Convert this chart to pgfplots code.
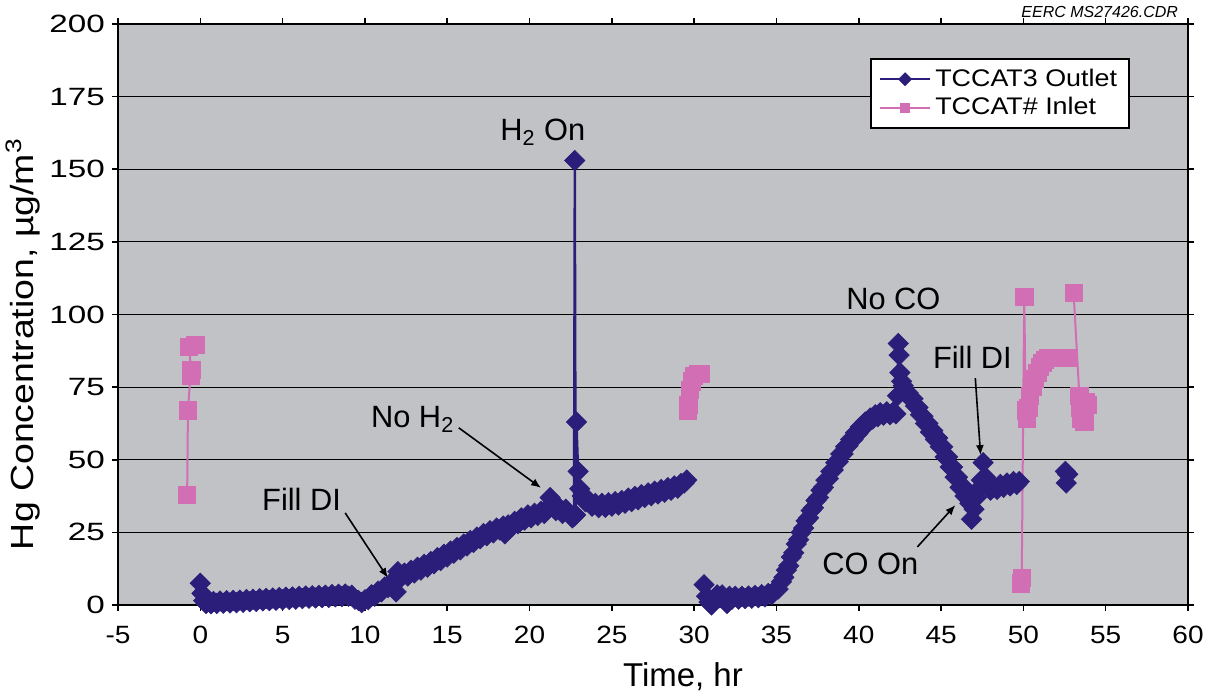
\documentclass[border=0pt]{standalone}
\usepackage{fontspec}
\setmainfont{Liberation Sans}
\newfontfamily\ytickfont[FakeStretch=1.33]{Liberation Sans}
\newfontfamily\xtickfont[FakeStretch=1.12]{Liberation Sans}
\newfontfamily\ylabfont[FakeStretch=1.17]{Liberation Sans}
\newfontfamily\legfont[FakeStretch=1.12]{Liberation Sans}
\usepackage{pgfplots}
\pgfplotsset{compat=1.18}
\usetikzlibrary{arrows.meta}
\definecolor{plotgray}{RGB}{192,194,197}
\definecolor{outblue}{RGB}{42,30,122}
\definecolor{inpink}{RGB}{210,110,180}
\pgfplotsset{
  outlet/.style={color=outblue, line width=1.2pt, mark=square*, mark size=3.6pt,
    mark options={rotate=45, fill=outblue, draw=outblue, line width=0.3pt}},
  inlet/.style={color=inpink, line width=1pt, mark=square*, mark size=4.3pt,
    mark options={fill=inpink, draw=inpink, line width=0.3pt}},
}
\begin{document}
\begin{tikzpicture}
\begin{axis}[
  at={(0,0)}, anchor=south west,
  scale only axis, width=535pt, height=290.5pt,
  xmin=-5, xmax=60, ymin=0, ymax=200, clip=false,
  xtick={-5,0,...,60}, ytick={0,25,...,200},
  tick align=outside, major tick length=3pt,
  tick style={black, line width=0.8pt},
  axis line style={black, line width=1pt},
  ymajorgrids, grid style={black, line width=0.6pt},
  axis background/.style={fill=plotgray},
  /pgf/number format/assume math mode=true,
  yticklabel style={font=\ytickfont\fontsize{12.5}{14}\selectfont},
  xticklabel style={font=\xtickfont\fontsize{12.5}{14}\selectfont, yshift=-4pt},
  xlabel={Time, hr}, ylabel={Hg Concentration, µg/m\textsuperscript{3}},
  x label style={font=\fontsize{16.5}{19}\selectfont, at={(axis description cs:0.528,-0.1411)}, anchor=base},
  y label style={font=\ylabfont\fontsize{16}{19}\selectfont, at={(axis description cs:-0.0888,0.449)}, anchor=center},
  legend style={at={(0.9458,0.9415)}, anchor=north east, draw=black, line width=1pt,
    fill=white, font=\legfont\fontsize{12}{14.5}\selectfont, inner xsep=4pt, inner ysep=3pt,
    row sep=0pt, cells={anchor=west}},
  legend image code/.code={\draw[mark repeat=2,mark phase=2,mark size=2.3pt] plot coordinates {(0pt,0pt) (12.5pt,0pt) (25pt,0pt)};},
]
% ---------- TCCAT3 Outlet ----------
\addplot[outlet] coordinates {
(0.0,7.5) (0.1,4) (0.2,1.5) (0.35,0.5) (0.5,1.3) (0.65,0.4) (0.8,1.2) (1.0,0.5) (1.2,1.4) (1.4,0.6)
(1.6,1.5) (1.8,0.7) (2.0,1.6) (2.2,0.8) (2.4,1.7) (2.6,0.9) (2.8,1.9) (3.0,1.1) (3.2,2.0) (3.4,1.2)
(3.6,2.2) (3.8,1.4) (4.0,2.3) (4.2,1.5) (4.4,2.4) (4.6,1.6) (4.8,2.6) (5.0,1.8) (5.2,2.7) (5.4,1.9)
(5.6,2.8) (5.8,2.0) (6.0,3.0) (6.2,2.2) (6.4,3.1) (6.6,2.3) (6.8,3.2) (7.0,2.4) (7.2,3.3) (7.4,2.5)
(7.6,3.4) (7.8,2.6) (8.0,3.6) (8.2,2.8) (8.4,3.7) (8.6,2.9) (8.8,3.8) (9.0,3.0) (9.2,3.4) (9.4,2.0)
(9.6,1.6) (9.8,0.8) (10.0,1.8) (10.2,1.8) (10.4,3.5) (10.6,3.0) (10.8,4.8) (11.0,4.5) (11.2,6.2)
(11.4,6.0) (11.6,7.8) (11.75,7.5) (11.9,4.5) (12.0,11.5) (12.2,9.5) (12.4,11) (12.6,10) (12.8,12)
(13.0,11) (13.2,13) (13.4,12) (13.6,14) (13.8,13) (14.0,15) (14.2,14.2) (14.4,16.3) (14.6,15.3)
(14.8,17.5) (15.0,16.5) (15.2,18.6) (15.4,17.8) (15.6,19.8) (15.8,19) (16.0,21) (16.2,20.3)
(16.4,22.2) (16.6,21.5) (16.8,23.4) (17.0,22.8) (17.2,24.6) (17.4,23.8) (17.6,25.6) (17.8,24.8)
(18.0,26.5) (18.2,25.8) (18.4,27.2) (18.5,24.5) (18.7,27.6) (18.9,26.8) (19.1,28.8) (19.3,28)
(19.5,30) (19.7,29.2) (19.9,31) (20.1,30) (20.3,31.6) (20.5,30.8) (20.7,32.3) (20.9,31.5)
(21.1,33.5) (21.25,37) (21.4,34.5) (21.6,32.5) (21.8,33.5) (22.0,31.5) (22.2,33) (22.4,31.5)
(22.6,30) (22.7,30.5) (22.75,153) (22.8,31) (22.85,63) (22.95,46) (23.05,40) (23.2,37.5)
(23.4,35.5) (23.6,36) (23.8,34) (24.0,35) (24.2,33.5) (24.4,35) (24.6,33.6) (24.8,35.2) (25.0,34)
(25.2,35.6) (25.4,34.4) (25.6,36) (25.8,35) (26.0,36.8) (26.2,35.6) (26.4,37.4) (26.6,36.2)
(26.8,38) (27.0,37) (27.2,38.6) (27.4,37.6) (27.6,39.2) (27.8,38.2) (28.0,39.8) (28.2,38.8)
(28.4,40.4) (28.6,39.5) (28.8,41) (29.0,40.2) (29.2,41.8) (29.4,42) (29.55,43)
};
\addlegendentry{TCCAT3 Outlet}
\addplot[outlet, forget plot] coordinates {
(30.6,7) (30.75,3) (30.9,1) (31.05,0) (31.2,2) (31.4,3.5) (31.55,2.5) (31.7,3.5) (31.85,1.5)
(32.0,0.5) (32.15,3) (32.3,2) (32.5,3) (32.7,2) (32.9,3) (33.1,2.2) (33.3,3.1) (33.5,2.3) (33.7,3.3)
(33.9,2.5) (34.1,3.6) (34.3,2.8) (34.5,4) (34.7,3.5) (34.9,5) (35.1,5.5) (35.3,8) (35.45,9.5)
(35.6,12) (35.75,13.5) (35.9,16.5) (36.05,18) (36.2,21) (36.35,22.5) (36.5,25) (36.65,26.5)
(36.8,29) (36.95,30) (37.1,32.5) (37.25,33.5) (37.4,36) (37.55,37) (37.7,39.5) (37.85,40.5)
(38.0,43) (38.15,43.5) (38.3,46) (38.45,46.5) (38.6,49) (38.75,49.3) (38.9,52) (39.05,52)
(39.2,54.5) (39.35,54.8) (39.5,57) (39.65,57) (39.8,59.3) (39.95,59) (40.1,61.3) (40.25,61)
(40.4,63) (40.55,62.7) (40.7,64.4) (40.85,64) (41.0,65.5) (41.15,64.8) (41.3,66.2) (41.5,65.3)
(41.7,66.5) (41.9,65.5) (42.1,66.5) (42.25,65.8) (42.35,72) (42.4,90) (42.45,86) (42.5,80)
(42.6,77) (42.7,75.5) (42.85,73.5) (43.0,73) (43.15,71) (43.3,71) (43.45,68.5) (43.6,68)
(43.75,65.5) (43.9,65) (44.05,62.5) (44.2,62.5) (44.35,59.5) (44.5,60) (44.65,57) (44.8,57.5)
(44.95,54.5) (45.1,54.5) (45.25,51) (45.4,51) (45.55,47.5) (45.7,47.5) (45.85,44) (46.0,44)
(46.15,40.5) (46.3,41) (46.45,37.5) (46.6,38) (46.75,35) (46.85,29.5) (47.0,33) (47.15,37)
(47.3,40) (47.45,43) (47.55,49) (47.7,44) (47.85,41) (48.0,39.5) (48.2,40.5) (48.4,39.8)
(48.6,41.5) (48.8,40.5) (49.0,42) (49.2,41) (49.4,42.5) (49.6,41.5) (49.75,42.5)
};
\addplot[outlet, forget plot] coordinates {(52.55,46) (52.6,42) (52.7,45)};
% ---------- TCCAT# Inlet ----------
\addplot[inlet] coordinates {
(-0.8,38) (-0.75,67) (-0.6,79) (-0.55,81) (-0.7,89) (-0.3,89.5)
};
\addlegendentry{TCCAT\# Inlet}
\addplot[inlet, forget plot] coordinates {
(29.6,67) (29.65,69) (29.75,74) (29.85,77) (30.0,79) (30.2,79.5) (30.4,79.5)
};
\addplot[inlet, forget plot] coordinates {
(49.85,7.5) (49.9,9.5) (50.05,106) (50.15,67) (50.2,64) (50.3,68) (50.4,72) (50.55,75)
(50.7,78) (50.85,80) (51.0,82) (51.15,83.5) (51.3,84.5) (51.5,85) (51.75,85) (52.0,85)
(52.25,85) (52.5,85) (52.7,85)
};
\addplot[inlet, forget plot] coordinates {
(53.05,107.5) (53.4,72) (53.45,68) (53.5,64) (53.7,63) (53.8,70) (53.9,69)
};
% ---------- annotations ----------
\node[font=\fontsize{15.4}{18}\selectfont] at (axis cs:20.8,162.8) {H\textsubscript{2} On};
\node[font=\fontsize{15.4}{18}\selectfont] at (axis cs:12.9,64) {No H\textsubscript{2}};
\node[font=\fontsize{15.4}{18}\selectfont] at (axis cs:6.15,36.5) {Fill DI};
\node[font=\fontsize{15.4}{18}\selectfont] at (axis cs:42.1,105.3) {No CO};
\node[font=\fontsize{15.4}{18}\selectfont] at (axis cs:46.9,85.4) {Fill DI};
\node[font=\fontsize{15.4}{18}\selectfont] at (axis cs:40.7,14.1) {CO On};
\draw[-{Latex[length=5pt,width=4pt]}, line width=0.8pt] (axis cs:15.7,61) -- (axis cs:20.7,40.3);
\draw[-{Latex[length=5pt,width=4pt]}, line width=0.8pt] (axis cs:8.8,31.7) -- (axis cs:11.4,9.3);
\draw[-{Latex[length=5pt,width=4pt]}, line width=0.8pt] (axis cs:47.08,78.1) -- (axis cs:47.4,51.6);
\draw[-{Latex[length=5pt,width=4pt]}, line width=0.8pt] (axis cs:43.56,20.0) -- (axis cs:45.87,34.4);
\end{axis}
\node[anchor=east, font=\itshape\fontsize{8}{9}\selectfont] at (533.5pt,296.5pt) {EERC MS27426.CDR};
\pgfresetboundingbox
\path[use as bounding box] (-59pt,-46.5pt) rectangle (551.5pt,302.5pt);
\end{tikzpicture}
\end{document}
